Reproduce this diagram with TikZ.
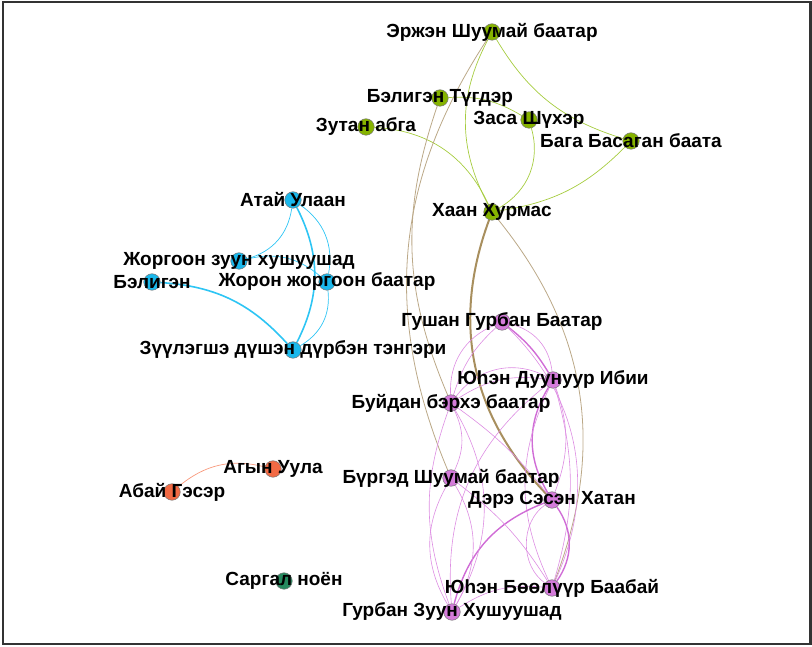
\documentclass[tikz,border=0pt]{standalone}
\usepackage{fontspec}
\setmainfont{Liberation Sans}
\pgfdeclarelayer{edges}
\pgfsetlayers{edges,main}
\definecolor{gnc}{HTML}{86B300}
\definecolor{gec}{HTML}{A6CC3F}
\definecolor{bnc}{HTML}{1AB8EC}
\definecolor{bec}{HTML}{2DC5F4}
\definecolor{pnc}{HTML}{D47BDA}
\definecolor{pec}{HTML}{DD8DE2}
\definecolor{ptc}{HTML}{D06CD6}
\definecolor{onc}{HTML}{F26A44}
\definecolor{oec}{HTML}{F89A7E}
\definecolor{tnc}{HTML}{26895F}
\definecolor{brc}{HTML}{BBA887}
\definecolor{brt}{HTML}{A88F5E}
\tikzset{
  vtx/.style={circle,inner sep=0pt,minimum size=16.5pt,draw=black!55,line width=0.5pt},
  gv/.style={vtx,fill=gnc},
  bv/.style={vtx,fill=bnc},
  pv/.style={vtx,fill=pnc},
  ov/.style={vtx,fill=onc},
  tv/.style={vtx,fill=tnc},
  lbl/.style={font=\bfseries\fontsize{19}{19}\selectfont,inner sep=0pt,text=black},
  ge/.style={draw=gec,line width=0.7pt},
  be/.style={draw=bec,line width=0.7pt},
  bet/.style={draw=bec,line width=1.6pt},
  pe/.style={draw=pec,line width=0.6pt},
  pet/.style={draw=ptc,line width=1.4pt},
  oe/.style={draw=oec,line width=0.7pt},
  bre/.style={draw=brc,line width=0.8pt},
  bret/.style={draw=brt,line width=2pt},
}
\begin{document}
\begin{tikzpicture}[x=1pt,y=1pt]
\useasboundingbox (0,0) rectangle (812,646);
\draw[black!80,line width=2.6pt] (2.8,2) rectangle (810.5,643.8);
% vertices
\node[gv] (er) at (492,614) {};
\node[gv] (bt) at (440,548) {};
\node[gv] (zu) at (366,519) {};
\node[gv] (zs) at (529,526) {};
\node[gv] (bb) at (631,505) {};
\node[gv] (kh) at (492,434) {};
\node[bv] (at) at (293,446) {};
\node[bv] (jz) at (239,385) {};
\node[bv] (be) at (152,364) {};
\node[bv] (jj) at (327,364) {};
\node[bv] (zd) at (293,296) {};
\node[ov] (ag) at (273,177) {};
\node[ov] (ab) at (172,154) {};
\node[tv] (sa) at (284,65) {};
\node[pv] (G) at (502,324) {};
\node[pv] (Y) at (553,266) {};
\node[pv] (B) at (451,243) {};
\node[pv] (R) at (451,168) {};
\node[pv] (D) at (552,146) {};
\node[pv] (Yb) at (552,58) {};
\node[pv] (Z) at (452,34) {};
\begin{pgfonlayer}{edges}
% green
\draw[ge] (er) to[bend right=28] (kh);
\draw[ge] (er) to[bend right=21] (bb);
\draw[ge] (bt) to[bend left=17] (zs);
\draw[ge] (zs) to[bend left=38] (kh);
\draw[ge] (zu) to[bend left=31] (kh);
\draw[ge] (bb) to[bend left=18] (kh);
% blue
\draw[be] (at) to[bend left=33] (jz);
\draw[bet] (at) to[bend left=27] (zd);
\draw[be] (at) to[bend left=33] (jj);
\draw[be] (jj) to[bend left=33] (zd);
\draw[be] (jz) to[bend left=27] (jj);
\draw[bet] (be) to[bend left=22] (zd);
% orange
\draw[oe] (ab) to[bend left=27] (ag);
% brown
\draw[bre] (er) to[bend right=28] (R);
\draw[bre] (bt) to[bend right=21] (B);
\draw[bret] (kh) to[bend right=32] (D);
\draw[bre] (kh) to[bend left=30] (Yb);
% pink
\draw[pet] (G) to[bend left=10] (Y);
\draw[pe] (G) to[bend left=35] (Y);
\draw[pe] (G) to[bend right=15] (B);
\draw[pe] (G) to[bend right=35] (B);
\draw[pe] (B) to[bend left=40] (Y);
\draw[pe] (B) to[bend left=20] (Y);
\draw[pe] (B) to[bend left=8] (D);
\draw[pe] (Y) to[bend right=28] (Z);
\draw[pet] (Y) to[bend right=31] (D);
\draw[pe] (Y) to[bend left=20] (D);
\draw[pe] (Y) to[bend right=25] (Yb);
\draw[pe] (Y) to[bend left=16] (Yb);
\draw[pe] (G) to[bend left=35] (Yb);
\draw[pet] (D) to[bend left=35] (Yb);
\draw[pe] (D) to[bend right=55] (Yb);
\draw[pet] (D) to[bend right=27] (Z);
\draw[pe] (Z) to[bend left=19] (Yb);
\draw[pe] (B) to[bend right=20] (Z);
\draw[pe] (B) to[bend left=30] (Z);
\draw[pe] (B) to[bend left=25] (R);
\draw[pe] (R) to[bend right=30] (Z);
\draw[pe] (R) to[bend left=30] (Z);
\draw[pe] (R) to[bend left=10] (Yb);
\end{pgfonlayer}
% labels
\node[lbl] (er-l) at (er) {Эржэн Шуумай баатар};
\node[lbl] (bt-l) at (bt) {Бэлигэн Түгдэр};
\node[lbl] (zu-l) at (zu) {Зутан абга};
\node[lbl] (zs-l) at (zs) {Заса Шүхэр};
\node[lbl] (bb-l) at (bb) {Бага Басаган баата};
\node[lbl] (kh-l) at (kh) {Хаан Хурмас};
\node[lbl] (at-l) at (at) {Атай Улаан};
\node[lbl] (jz-l) at (jz) {Жоргоон зуун хушуушад};
\node[lbl] (be-l) at (be) {Бэлигэн};
\node[lbl] (jj-l) at (jj) {Жорон жоргоон баатар};
\node[lbl] (zd-l) at (zd) {Зүүлэгшэ дүшэн дүрбэн тэнгэри};
\node[lbl] (ag-l) at (ag) {Агын Уула};
\node[lbl] (ab-l) at (ab) {Абай Гэсэр};
\node[lbl] (sa-l) at (sa) {Саргал ноён};
\node[lbl] (G-l) at (G) {Гушан Гурбан Баатар};
\node[lbl] (Y-l) at (Y) {Юһэн Дуунуур Ибии};
\node[lbl] (B-l) at (B) {Буйдан бэрхэ баатар};
\node[lbl] (R-l) at (R) {Бүргэд Шуумай баатар};
\node[lbl] (D-l) at (D) {Дэрэ Сэсэн Хатан};
\node[lbl] (Yb-l) at (Yb) {Юһэн Бөөлүүр Баабай};
\node[lbl] (Z-l) at (Z) {Гурбан Зуун Хушуушад};
\end{tikzpicture}
\end{document}
